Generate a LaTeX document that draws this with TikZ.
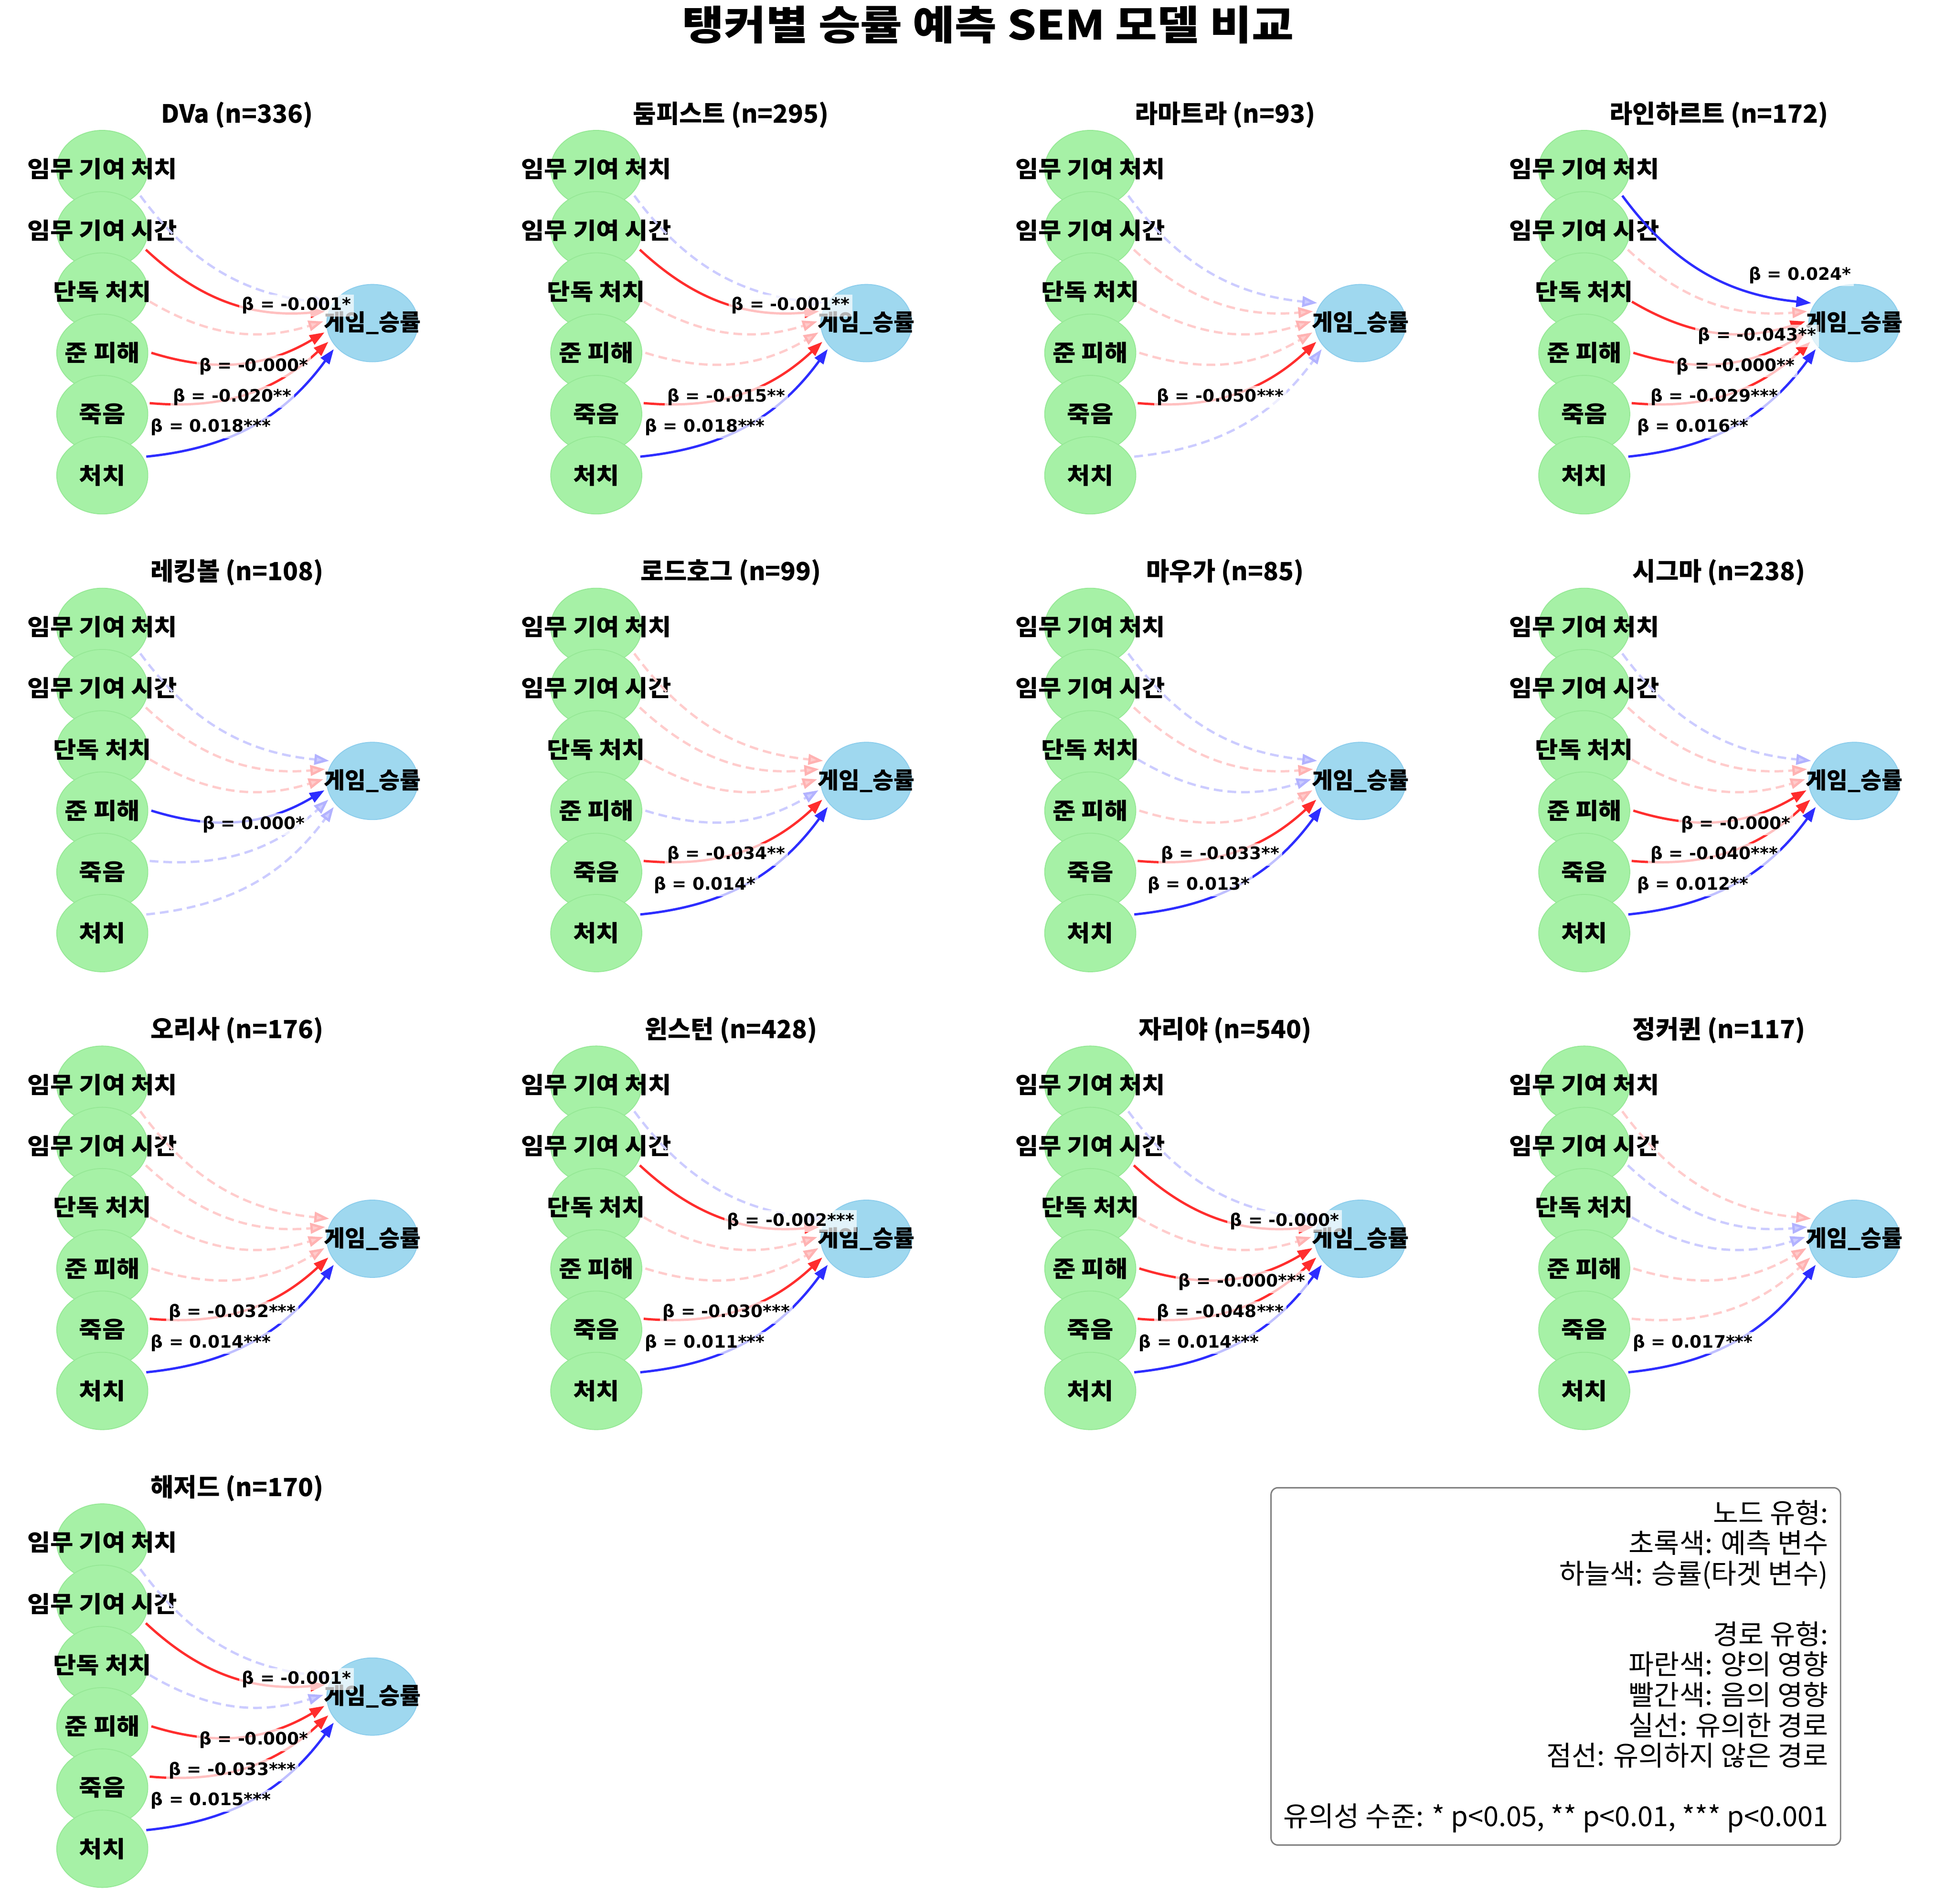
\documentclass[tikz,border=0pt]{standalone}
\usepackage{fontspec}
\setmainfont{Noto Sans CJK KR}
\newfontfamily\widehangul{Noto Sans CJK KR}[FakeStretch=1.1]
\newfontfamily\titlehangul{Noto Sans CJK KR}[FakeStretch=1.13]
\newfontfamily\betafont{DejaVu Sans}
\usepackage{tikz}
\usetikzlibrary{shapes.geometric, arrows.meta, calc}
\definecolor{NodeGreen}{RGB}{166,241,166}
\definecolor{NodeGreenEdge}{RGB}{150,232,150}
\definecolor{TargetBlue}{RGB}{159,216,239}
\definecolor{TargetBlueEdge}{RGB}{140,205,236}
\definecolor{PosBlue}{RGB}{45,45,255}
\definecolor{NegRed}{RGB}{255,45,45}
\definecolor{PosLight}{RGB}{204,204,255}
\definecolor{NegLight}{RGB}{255,204,204}
\definecolor{PosTip}{RGB}{178,178,255}
\definecolor{NegTip}{RGB}{255,178,178}
\definecolor{LegendGray}{RGB}{128,128,128}

\def\nobeta{-}
% one SEM panel: id, x, y, title, six paths (style/beta)
\newcommand{\tankpanel}[5]{%
  \begin{scope}[shift={(#2,#3)}]
    \node[paneltitle] (#1-title) at (108,43.5) {#4};
    \foreach \vname [count=\i from 0] in {임무 기여 처치, 임무 기여 시간, 단독 처치, 준 피해, 죽음, 처치}
      \node[predictor] (#1-p\i) at (0,-49.1*\i) {\makebox[0pt]{\vname}};
    \node[target] (#1-t) at (216.5,-123.5) {\makebox[0pt]{게임\_승률}};
    \foreach \kind/\val [count=\i from 0] in {#5}{%
      \pgfmathsetmacro\straight{atan2(49.1*\i-123.5,216.5)}%
      \pgfmathsetmacro\sang{\straight-5.5}%
      \pgfmathsetmacro\eang{\straight+185}%
      \draw[\kind] (#1-p\i.\sang) to[bend right=24] (#1-t.\eang);}
    \foreach \kind/\val [count=\i from 0] in {#5}{%
      \edef\curval{\val}%
      \ifx\curval\nobeta\else
        \node[betalab] (#1-b\i) at (173-17.2*\i,-85-24.4*\i) {β = \val};
      \fi}
  \end{scope}}

\begin{document}
\begin{tikzpicture}[x=0.025cm, y=0.025cm,
    predictor/.style={ellipse, fill=NodeGreen, draw=NodeGreenEdge, line width=0.5pt,
                      minimum width=1.825cm, minimum height=1.55cm, inner sep=0pt,
                      outer sep=2pt, font=\widehangul\fontsize{13}{15}\selectfont\bfseries},
    target/.style={ellipse, fill=TargetBlue, draw=TargetBlueEdge, line width=0.5pt,
                   minimum width=1.825cm, minimum height=1.55cm, inner sep=0pt,
                   outer sep=2pt, font=\fontsize{13}{15}\selectfont\bfseries},
    paneltitle/.style={font=\fontsize{14.3}{17}\selectfont\bfseries},
    maintitle/.style={font=\titlehangul\fontsize{23}{27}\selectfont\bfseries},
    betalab/.style={fill=white, fill opacity=0.7, text opacity=1, inner sep=1.5pt,
                    font=\betafont\fontsize{9.8}{11}\selectfont\bfseries},
    sigpos/.style={PosBlue, line width=1.35pt, -{Triangle[length=8.5pt,width=6pt]}},
    signeg/.style={NegRed, line width=1.35pt, -{Triangle[length=8.5pt,width=6pt]}},
    nspos/.style={PosLight, line width=1.35pt, dash pattern=on 5pt off 2.8pt,
                  -{Triangle[length=8.5pt,width=6pt,color=PosTip,fill=PosLight]}},
    nsneg/.style={NegLight, line width=1.35pt, dash pattern=on 5pt off 2.8pt,
                  -{Triangle[length=8.5pt,width=6pt,color=NegTip,fill=NegLight]}},
    legendbox/.style={draw=LegendGray, fill=white, rounded corners=4pt, line width=0.8pt,
                      align=right, inner sep=7pt, font=\fontsize{15.7}{17.3}\selectfont}
  ]
  \useasboundingbox (0,0) rectangle (1568,-1526);

  \node[maintitle] (title) at (792,-20) {탱커별 승률 예측 SEM 모델 비교};

  \tankpanel{dva}{82}{-135.5}{DVa (n=336)}%
    {nspos/-, signeg/-0.001*, nsneg/-, signeg/-0.000*, signeg/-0.020**, sigpos/0.018***}
  \tankpanel{doom}{478}{-135.5}{둠피스트 (n=295)}%
    {nspos/-, signeg/-0.001**, nsneg/-, nsneg/-, signeg/-0.015**, sigpos/0.018***}
  \tankpanel{ram}{874}{-135.5}{라마트라 (n=93)}%
    {nspos/-, nsneg/-, nsneg/-, nsneg/-, signeg/-0.050***, nspos/-}
  \tankpanel{rein}{1270}{-135.5}{라인하르트 (n=172)}%
    {sigpos/0.024*, nsneg/-, signeg/-0.043**, signeg/-0.000**, signeg/-0.029***, sigpos/0.016**}

  \tankpanel{ball}{82}{-502.5}{레킹볼 (n=108)}%
    {nspos/-, nsneg/-, nsneg/-, sigpos/0.000*, nspos/-, nspos/-}
  \tankpanel{hog}{478}{-502.5}{로드호그 (n=99)}%
    {nsneg/-, nsneg/-, nsneg/-, nspos/-, signeg/-0.034**, sigpos/0.014*}
  \tankpanel{mauga}{874}{-502.5}{마우가 (n=85)}%
    {nspos/-, nsneg/-, nspos/-, nsneg/-, signeg/-0.033**, sigpos/0.013*}
  \tankpanel{sigma}{1270}{-502.5}{시그마 (n=238)}%
    {nspos/-, nsneg/-, nsneg/-, signeg/-0.000*, signeg/-0.040***, sigpos/0.012**}

  \tankpanel{orisa}{82}{-869.5}{오리사 (n=176)}%
    {nsneg/-, nsneg/-, nsneg/-, nsneg/-, signeg/-0.032***, sigpos/0.014***}
  \tankpanel{winston}{478}{-869.5}{윈스턴 (n=428)}%
    {nspos/-, signeg/-0.002***, nsneg/-, nsneg/-, signeg/-0.030***, sigpos/0.011***}
  \tankpanel{zarya}{874}{-869.5}{자리야 (n=540)}%
    {nspos/-, signeg/-0.000*, nsneg/-, signeg/-0.000***, signeg/-0.048***, sigpos/0.014***}
  \tankpanel{jq}{1270}{-869.5}{정커퀸 (n=117)}%
    {nsneg/-, nspos/-, nspos/-, nsneg/-, nsneg/-, sigpos/0.017***}

  \tankpanel{hazard}{82}{-1236.5}{해저드 (n=170)}%
    {nspos/-, signeg/-0.001*, nspos/-, signeg/-0.000*, signeg/-0.033***, sigpos/0.015***}

  % legend
  \node[legendbox, anchor=north east] (legend) at (1476,-1192)
    {노드 유형:\\
     초록색: 예측 변수\\
     하늘색: 승률(타겟 변수)\\
     \mbox{}\\
     경로 유형:\\
     파란색: 양의 영향\\
     빨간색: 음의 영향\\
     실선: 유의한 경로\\
     점선: 유의하지 않은 경로\\
     \mbox{}\\
     유의성 수준: * p<0.05, ** p<0.01, *** p<0.001};
\end{tikzpicture}
\end{document}
